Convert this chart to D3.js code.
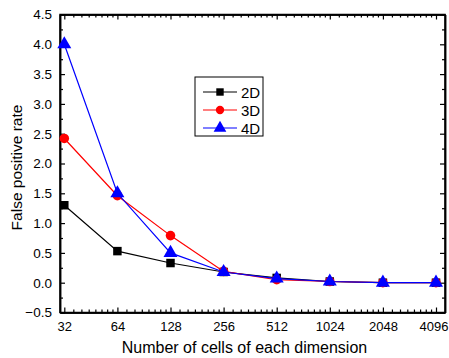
<!DOCTYPE html>
<html>
<head>
<meta charset="utf-8">
<script src="https://cdn.jsdelivr.net/npm/d3@7"></script>
<style>
  body { margin: 0; background: #fff; }
  svg text { font-family: "Liberation Sans", Arial, sans-serif; }
</style>
</head>
<body>
<svg id="chart" width="449" height="358"></svg>
<script>
const cells = [32, 64, 128, 256, 512, 1024, 2048, 4096]
const fpr2D = [1.3, 0.53, 0.33, 0.18, 0.08, 0.02, 0.0, 0.0]
const fpr3D = [2.42, 1.46, 0.79, 0.19, 0.05, 0.02, 0.0, 0.0]
const fpr4D = [4.0, 1.5, 0.5, 0.18, 0.07, 0.02, 0.0, 0.0]
const yTicks = [-0.5, 0.0, 0.5, 1.0, 1.5, 2.0, 2.5, 3.0, 3.5, 4.0, 4.5]

const series = [
  { name: "2D", values: fpr2D, color: "#000000", shape: d3.symbolSquare },
  { name: "3D", values: fpr3D, color: "#ff0000", shape: d3.symbolCircle },
  { name: "4D", values: fpr4D, color: "#0000ff", shape: d3.symbolTriangle },
]

const svg = d3.select("#chart")
const plot = { left: 60, right: 445, top: 14.5, bottom: 312.5 }

// log2 x axis, padded a little beyond the end categories
const x = d3.scaleLog().base(2)
  .domain([32 / Math.pow(2, 4.3 / 53.1), 4096 * Math.pow(2, 9 / 53.1)])
  .range([plot.left, plot.right])

const y = d3.scaleLinear().domain([-0.5, 4.5]).range([plot.bottom, plot.top])

// minor ticks
const xMinor = []
cells.forEach(c => { for (let k = 1; k < 8; k++) xMinor.push(c * (1 + k / 8)) })
const xMinorIn = xMinor.filter(v => v < x.domain()[1])
const yMinor = d3.range(-0.25, 4.5, 0.5)

const g = svg.append("g")

// bottom axis
const xAxis = g.append("g").attr("transform", `translate(0,${plot.bottom})`)
  .call(d3.axisBottom(x).tickValues(cells).tickFormat(d3.format("d")).tickSizeInner(-5).tickSizeOuter(0).tickPadding(9))
g.append("g").attr("transform", `translate(0,${plot.bottom})`)
  .call(d3.axisBottom(x).tickValues(xMinorIn).tickFormat("").tickSizeInner(-3).tickSizeOuter(0))
// top axis
g.append("g").attr("transform", `translate(0,${plot.top})`)
  .call(d3.axisTop(x).tickValues(cells).tickFormat("").tickSizeInner(-5).tickSizeOuter(0))
g.append("g").attr("transform", `translate(0,${plot.top})`)
  .call(d3.axisTop(x).tickValues(xMinorIn).tickFormat("").tickSizeInner(-3).tickSizeOuter(0))
// left axis
g.append("g").attr("transform", `translate(${plot.left},0)`)
  .call(d3.axisLeft(y).tickValues(yTicks).tickFormat(d3.format(".1f")).tickSizeInner(-5).tickSizeOuter(0).tickPadding(8))
g.append("g").attr("transform", `translate(${plot.left},0)`)
  .call(d3.axisLeft(y).tickValues(yMinor).tickFormat("").tickSizeInner(-3).tickSizeOuter(0))
// right axis
g.append("g").attr("transform", `translate(${plot.right},0)`)
  .call(d3.axisRight(y).tickValues(yTicks).tickFormat("").tickSizeInner(-5).tickSizeOuter(0))
g.append("g").attr("transform", `translate(${plot.right},0)`)
  .call(d3.axisRight(y).tickValues(yMinor).tickFormat("").tickSizeInner(-3).tickSizeOuter(0))

g.selectAll(".tick line").attr("stroke", "#000").attr("stroke-width", 1.2)
g.selectAll(".domain").attr("stroke", "#000").attr("stroke-width", 1.5)
g.selectAll(".tick text").attr("font-size", 13.5).attr("fill", "#000")
xAxis.selectAll(".tick text").attr("font-size", 13)
// keep the last label inside the window
xAxis.selectAll(".tick text").filter(d => d === 4096)
  .attr("text-anchor", "end").attr("x", 448 - x(4096))

// frame
svg.append("rect")
  .attr("x", plot.left).attr("y", plot.top)
  .attr("width", plot.right - plot.left).attr("height", plot.bottom - plot.top)
  .attr("fill", "none").attr("stroke", "#000").attr("stroke-width", 1.5)

// lines and markers
const line = d3.line().x((d, i) => x(cells[i])).y(d => y(d))

series.forEach(s => {
  svg.append("path")
    .datum(s.values)
    .attr("fill", "none")
    .attr("stroke", s.color)
    .attr("stroke-width", 1.2)
    .attr("d", line)

  svg.selectAll(null)
    .data(s.values)
    .enter()
    .append("path")
    .attr("transform", (d, i) => `translate(${x(cells[i])},${y(d)})`)
    .attr("d", d3.symbol().type(s.shape).size(s.shape === d3.symbolTriangle ? 85 : 72))
    .attr("fill", s.color)
})

// legend
const legend = svg.append("g")
legend.append("rect")
  .attr("x", 195).attr("y", 77).attr("width", 68).attr("height", 59)
  .attr("fill", "#fff").attr("stroke", "#000").attr("stroke-width", 1)

series.forEach((s, i) => {
  const ly = 92 + i * 18
  legend.append("line")
    .attr("x1", 203).attr("x2", 237).attr("y1", ly).attr("y2", ly)
    .attr("stroke", s.color).attr("stroke-width", 1.2)
  legend.append("path")
    .attr("transform", `translate(220,${ly})`)
    .attr("d", d3.symbol().type(s.shape).size(s.shape === d3.symbolTriangle ? 70 : 55))
    .attr("fill", s.color)
  legend.append("text")
    .attr("x", 241).attr("y", ly + 5.5)
    .attr("font-size", 15)
    .text(s.name)
})

// axis titles
svg.append("text")
  .attr("x", (plot.left + plot.right) / 2 - 8).attr("y", 353)
  .attr("text-anchor", "middle").attr("font-size", 16)
  .text("Number of cells of each dimension")

svg.append("text")
  .attr("transform", `translate(22,${(plot.top + plot.bottom) / 2 + 4}) rotate(-90)`)
  .attr("text-anchor", "middle").attr("font-size", 15.5)
  .text("False positive rate")
</script>
</body>
</html>
